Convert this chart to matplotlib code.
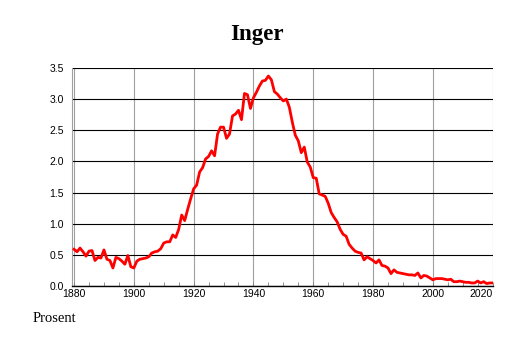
import numpy as np
import matplotlib
matplotlib.use("Agg")
import matplotlib.pyplot as plt
from matplotlib.ticker import MultipleLocator

years = list(range(1880, 2021))
prosent = [
    0.59, 0.55, 0.61, 0.55, 0.48, 0.56, 0.57, 0.41, 0.46, 0.45,   # 1880-
    0.58, 0.43, 0.41, 0.29, 0.46, 0.44, 0.40, 0.35, 0.49, 0.31,   # 1890-
    0.29, 0.40, 0.43, 0.44, 0.45, 0.47, 0.53, 0.55, 0.56, 0.60,   # 1900-
    0.69, 0.71, 0.71, 0.82, 0.78, 0.91, 1.14, 1.05, 1.23, 1.40,   # 1910-
    1.56, 1.62, 1.83, 1.90, 2.04, 2.08, 2.17, 2.09, 2.44, 2.55,   # 1920-
    2.55, 2.37, 2.44, 2.73, 2.76, 2.82, 2.67, 3.09, 3.07, 2.85,   # 1930-
    3.02, 3.11, 3.21, 3.29, 3.30, 3.37, 3.31, 3.12, 3.08, 3.02,   # 1940-
    2.97, 3.00, 2.87, 2.63, 2.42, 2.33, 2.14, 2.23, 1.99, 1.91,   # 1950-
    1.74, 1.73, 1.48, 1.46, 1.44, 1.33, 1.18, 1.10, 1.03, 0.91,   # 1960-
    0.83, 0.80, 0.67, 0.61, 0.56, 0.54, 0.53, 0.42, 0.47, 0.44,   # 1970-
    0.41, 0.37, 0.42, 0.33, 0.32, 0.29, 0.20, 0.26, 0.22, 0.21,   # 1980-
    0.20, 0.19, 0.18, 0.18, 0.17, 0.21, 0.13, 0.17, 0.16, 0.13,   # 1990-
    0.10, 0.12, 0.12, 0.12, 0.11, 0.10, 0.11, 0.07, 0.07, 0.08,   # 2000-
    0.07, 0.06, 0.06, 0.05, 0.05, 0.08, 0.05, 0.07, 0.04, 0.05,   # 2010-
    0.05,                                                         # 2020
]
x_ticks = [1880, 1900, 1920, 1940, 1960, 1980, 2000, 2020]
y_ticks = [0.0, 0.5, 1.0, 1.5, 2.0, 2.5, 3.0, 3.5]

fig = plt.figure(figsize=(5.14, 3.43), dpi=100, facecolor='w')
ax = fig.add_axes([0.140, 0.166, 0.819, 0.636])

ax.plot(years, prosent, '-', lw=2.0, color='#ff0000', zorder=3)

ax.set_xlim(1879.3, 2020.1)
ax.set_ylim(0, 3.5)
ax.set_xticks(x_ticks)
ax.set_yticks(y_ticks)
ax.set_yticklabels(["{:.1f}".format(v) for v in y_ticks], fontsize=7.5,
                   family='Liberation Sans')
labels = ax.set_xticklabels([str(v) for v in x_ticks], fontsize=7.5,
                            family='Liberation Sans')
labels[-1].set_ha('right')
ax.xaxis.set_minor_locator(MultipleLocator(5))

ax.grid(True, axis='x', color='#a0a0a0', lw=0.8)
ax.grid(True, axis='y', color='black', lw=0.8)
ax.tick_params(axis='x', which='both', direction='in', length=3, width=0.6,
               color='#808080', pad=2)
ax.tick_params(axis='y', length=0, pad=6)

for side in ('top', 'right'):
    ax.spines[side].set_visible(False)
ax.spines['left'].set_color('#a0a0a0')
ax.spines['left'].set_linewidth(0.8)
ax.spines['bottom'].set_color('black')
ax.spines['bottom'].set_linewidth(1.0)

fig.text(0.5, 0.898, "Inger", ha='center', va='center', fontsize=16.5,
         fontweight='bold', family='Liberation Serif')
fig.text(0.064, 0.072, "Prosent", ha='left', va='center', fontsize=10.5,
         family='Liberation Serif')

plt.savefig("out.png", dpi=100)
